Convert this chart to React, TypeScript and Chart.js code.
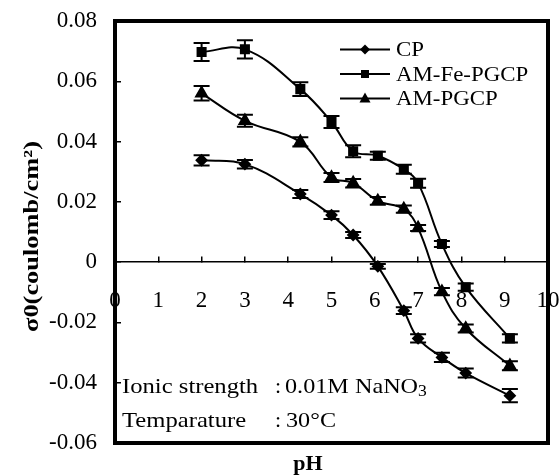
import React, { useEffect, useRef } from "react";
import { Chart, registerables } from "chart.js";

Chart.register(...registerables);

const PH = [2.0, 3.0, 4.28, 5.0, 5.5, 6.07, 6.67, 7.0, 7.55, 8.1, 9.12];
const CP = [0.0338, 0.0325, 0.0226, 0.0156, 0.009, -0.0014, -0.0161, -0.0253, -0.0316, -0.0368, -0.0443];
const AM_FE_PGCP = [0.0697, 0.0706, 0.0574, 0.0465, 0.0368, 0.0353, 0.0308, 0.0262, 0.006, -0.0083, -0.0253];
const AM_PGCP = [0.056, 0.0469, 0.0399, 0.0281, 0.0262, 0.0203, 0.0176, 0.0113, -0.0098, -0.022, -0.0344];
const CP_ERR = [0.0017, 0.0014, 0.0013, 0.0013, 0.001, 0.0008, 0.0011, 0.0014, 0.0015, 0.0015, 0.0022];
const AM_FE_PGCP_ERR = [0.003, 0.003, 0.0023, 0.002, 0.002, 0.0013, 0.0015, 0.0015, 0.001, 0.0012, 0.0014];
const AM_PGCP_ERR = [0.0024, 0.002, 0.0015, 0.0015, 0.0014, 0.0013, 0.0012, 0.001, 0.0012, 0.0013, 0.0015];
const SERIES_LABELS = ["CP", "AM-Fe-PGCP", "AM-PGCP"];
const X_TITLE = "pH";
const Y_TITLE = "σ0(coulomb/cm²)";
const NOTE_LABELS = ["Ionic strength", "Temparature"];
const NOTE_VALUES = ["0.01M NaNO", "30°C"];

const SERIF = "'Liberation Serif', 'Times New Roman', serif";

const toPts = (ys: number[]) => ys.map((y, i) => ({ x: PH[i], y }));

function drawMarker(ctx: CanvasRenderingContext2D, style: string, x: number, y: number) {
  ctx.beginPath();
  if (style === "rectRot") {
    ctx.moveTo(x, y - 5);
    ctx.lineTo(x + 5, y);
    ctx.lineTo(x, y + 5);
    ctx.lineTo(x - 5, y);
  } else if (style === "rect") {
    ctx.rect(x - 4, y - 4, 8, 8);
  } else {
    ctx.moveTo(x, y - 6);
    ctx.lineTo(x + 5.5, y + 4);
    ctx.lineTo(x - 5.5, y + 4);
  }
  ctx.closePath();
  ctx.fill();
}

function stretchText(ctx: CanvasRenderingContext2D, text: string, x: number, y: number, sx: number) {
  ctx.save();
  ctx.translate(x, y);
  ctx.scale(sx, 1);
  ctx.fillText(text, 0, 0);
  ctx.restore();
  return ctx.measureText(text).width * sx;
}

const errorBars = {
  id: "errorBars",
  beforeDatasetsDraw(chart: any) {
    const ctx = chart.ctx;
    const ys = chart.scales.y;
    const xs = chart.scales.x;
    ctx.save();
    ctx.strokeStyle = "#000";
    ctx.lineWidth = 2;
    chart.data.datasets.forEach((ds: any) => {
      ds.data.forEach((p: any, i: number) => {
        const e = ds.errors[i];
        const px = xs.getPixelForValue(p.x);
        const y1 = ys.getPixelForValue(p.y + e);
        const y2 = ys.getPixelForValue(p.y - e);
        ctx.beginPath();
        ctx.moveTo(px, y1);
        ctx.lineTo(px, y2);
        ctx.moveTo(px - 8, y1);
        ctx.lineTo(px + 8, y1);
        ctx.moveTo(px - 8, y2);
        ctx.lineTo(px + 8, y2);
        ctx.stroke();
      });
    });
    ctx.restore();
  },
};

const decorations = {
  id: "decorations",
  afterDraw(chart: any) {
    const ctx = chart.ctx;
    const a = chart.chartArea;
    ctx.save();
    // plot frame
    ctx.strokeStyle = "#000";
    ctx.lineWidth = 4;
    ctx.strokeRect(a.left, a.top, a.right - a.left, a.bottom - a.top);

    // legend
    ctx.fillStyle = "#000";
    ctx.lineWidth = 2;
    ctx.font = `22px ${SERIF}`;
    ctx.textBaseline = "middle";
    ctx.textAlign = "left";
    const rows = [49.5, 74, 98.5];
    chart.data.datasets.forEach((ds: any, i: number) => {
      const y = rows[i];
      ctx.beginPath();
      ctx.moveTo(340, y);
      ctx.lineTo(390, y);
      ctx.stroke();
      drawMarker(ctx, ds.pointStyle, 365, y);
      stretchText(ctx, ds.label, 396, y + 1, 1.04);
    });

    // notes
    ctx.font = `22px ${SERIF}`;
    const noteY = [387, 421];
    NOTE_LABELS.forEach((t, i) => {
      stretchText(ctx, t, 122, noteY[i], 1.12);
      ctx.fillText(":", 275, noteY[i]);
    });
    const w = stretchText(ctx, NOTE_VALUES[0], 285, noteY[0], 1.1);
    ctx.font = `16px ${SERIF}`;
    stretchText(ctx, "3", 285 + w, noteY[0] + 5, 1.1);
    ctx.font = `22px ${SERIF}`;
    stretchText(ctx, NOTE_VALUES[1], 286, noteY[1], 1.1);

    // x title
    ctx.font = `bold 22px ${SERIF}`;
    ctx.textAlign = "center";
    ctx.textBaseline = "middle";
    ctx.fillText(X_TITLE, 308, 464);

    // y title (rotated)
    ctx.save();
    ctx.translate(38, 236.5);
    ctx.rotate(-Math.PI / 2);
    ctx.font = `bold 22px ${SERIF}`;
    ctx.textAlign = "center";
    ctx.textBaseline = "alphabetic";
    ctx.scale(1.2, 1);
    ctx.fillText(Y_TITLE, 0, 0);
    ctx.restore();

    ctx.restore();
  },
};

export default function App() {
  const ref = useRef<HTMLCanvasElement>(null);
  useEffect(() => {
    if (!ref.current) return;
    const common = {
      borderColor: "#000",
      backgroundColor: "#000",
      pointBorderColor: "#000",
      pointBackgroundColor: "#000",
      borderWidth: 2,
      showLine: true,
      tension: 0.4,
    };
    const chart = new Chart(ref.current, {
      type: "scatter",
      data: {
        datasets: [
          { ...common, label: SERIES_LABELS[0], data: toPts(CP), errors: CP_ERR, pointStyle: "rectRot", pointRadius: 5 } as any,
          { ...common, label: SERIES_LABELS[1], data: toPts(AM_FE_PGCP), errors: AM_FE_PGCP_ERR, pointStyle: "rect", pointRadius: 5.7 } as any,
          { ...common, label: SERIES_LABELS[2], data: toPts(AM_PGCP), errors: AM_PGCP_ERR, pointStyle: "triangle", pointRadius: 6.3 } as any,
        ],
      },
      options: {
        animation: false,
        responsive: false,
        layout: { padding: { left: 0, top: 21, right: 12, bottom: 33 } },
        plugins: { legend: { display: false }, tooltip: { enabled: false } },
        scales: {
          x: {
            type: "linear",
            position: { y: 0 } as any,
            min: 0,
            max: 10,
            afterFit: (s: any) => {
              s.paddingLeft = 0;
              s.paddingRight = 0;
              s.paddingTop = 0;
              s.paddingBottom = 0;
            },
            ticks: {
              stepSize: 1,
              padding: 31,
              color: "#000",
              font: { family: SERIF, size: 23 },
            },
            grid: { drawOnChartArea: false, tickLength: -6, color: "#000", lineWidth: 1.5 },
            border: { color: "#000", width: 1.5 },
          },
          y: {
            type: "linear",
            position: "left",
            min: -0.06,
            max: 0.08,
            afterFit: (s: any) => {
              s.width = 115;
              s.paddingTop = 0;
              s.paddingBottom = 0;
              s.paddingLeft = 0;
              s.paddingRight = 0;
            },
            ticks: {
              stepSize: 0.02,
              padding: 24,
              color: "#000",
              font: { family: SERIF, size: 23 },
              callback: (v: any) => {
                const n = Math.round(Number(v) * 100) / 100;
                return n === 0 ? "0" : n.toFixed(2);
              },
            },
            grid: { drawOnChartArea: false, tickLength: -6, color: "#000", lineWidth: 1.5 },
            border: { color: "#000", width: 4 },
            title: { display: false },
          },
        },
      },
      plugins: [errorBars, decorations],
    });
    return () => chart.destroy();
  }, []);
  return (
    <div style={{ position: "fixed", left: 0, top: 0, width: 560, height: 476, background: "#fff" }}>
      <canvas ref={ref} width={560} height={476} style={{ display: "block" }} />
    </div>
  );
}
